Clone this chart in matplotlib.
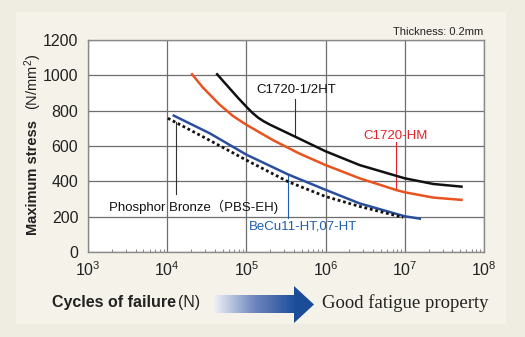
import numpy as np
import matplotlib
matplotlib.use("Agg")
import matplotlib.pyplot as plt
from matplotlib.patches import Rectangle, Polygon
from matplotlib.colors import LinearSegmentedColormap
from matplotlib.ticker import LogLocator, LogFormatterMathtext, NullFormatter

plt.rcParams["font.family"] = ["Liberation Sans", "Noto Sans CJK JP"]
plt.rcParams["mathtext.default"] = "regular"

# S-N curves for 0.2 mm strip: cycles to failure vs max stress (N/mm^2)
half_ht_cycles = [4.27e4, 6.46e4, 7.94e4, 1.0e5, 1.19e5, 1.41e5, 1.68e5, 2.0e5, 4.07e5,
                  1.0e6, 2.69e6, 1.0e7, 2.29e7, 5.2e7]
half_ht_stress = [1006, 915, 870, 822, 788, 760, 738, 720, 654, 570, 492, 417, 385, 370]

hm_cycles = [2.06e4, 2.82e4, 4.57e4, 6.76e4, 1.0e5, 2.19e5, 4.68e5, 1.0e6, 2.69e6,
             7.76e6, 1.0e7, 2.29e7, 5.2e7]
hm_stress = [1006, 931, 835, 770, 720, 632, 557, 492, 417, 351, 338, 308, 295]

becu_cycles = [1.21e4, 3.44e4, 1.0e5, 3.36e5, 1.0e6, 2.69e6, 1.0e7, 1.55e7]
becu_stress = [772, 672, 551, 439, 352, 275, 202, 189]

pbs_cycles = [1.02e4, 3.44e4, 1.0e5, 3.36e5, 1.0e6, 2.69e6, 9.5e6]
pbs_stress = [757, 632, 520, 398, 314, 258, 196]

y_ticks = [0, 200, 400, 600, 800, 1000, 1200]

BLACK = "#111111"
ORANGE = "#e8531f"
BLUE = "#2b4f9e"
RED_TXT = "#e3232b"
BLUE_TXT = "#1f5fae"

fig = plt.figure(figsize=(5.25, 3.37), dpi=100)
fig.patch.set_facecolor("#efece1")

# overlay in pixel units for the panel and the arrow
bg = fig.add_axes([0, 0, 1, 1], zorder=0)
bg.set_xlim(0, 525)
bg.set_ylim(337, 0)
bg.axis("off")
bg.add_patch(Rectangle((16, 12), 490, 312, facecolor="#f5f2ea", edgecolor="none"))

ax = fig.add_axes([88 / 525, 1 - 252 / 337, 396 / 525, 212 / 337], zorder=1)
ax.set_facecolor("white")
ax.set_xscale("log")
ax.set_xlim(1e3, 1e8)
ax.set_ylim(0, 1200)
ax.set_yticks(y_ticks)
ax.xaxis.set_major_locator(LogLocator(base=10, numticks=10))
ax.xaxis.set_major_formatter(LogFormatterMathtext())
ax.xaxis.set_minor_locator(LogLocator(base=10, subs=np.arange(2, 10), numticks=10))
ax.xaxis.set_minor_formatter(NullFormatter())
ax.grid(True, which="major", color="#6e6e6e", lw=0.9)
ax.tick_params(which="major", length=0, labelsize=11.5, colors="#222222")
ax.tick_params(axis="y", pad=7)
ax.tick_params(axis="x", pad=6)
ax.tick_params(which="minor", direction="in", length=2.5, width=0.7, color="#888888")
for sp in ax.spines.values():
    sp.set_color("#8a8a8a")
    sp.set_linewidth(1.0)

ax.plot(half_ht_cycles, half_ht_stress, color=BLACK, lw=1.8, zorder=3)
ax.plot(hm_cycles, hm_stress, color=ORANGE, lw=1.8, zorder=3)
ax.plot(becu_cycles, becu_stress, color=BLUE, lw=1.8, zorder=3)
ax.plot(pbs_cycles, pbs_stress, color=BLACK, lw=2.0, ls=(0, (1, 1)), zorder=3)

# leader lines and curve labels
ax.plot([4.07e5, 4.07e5], [866, 654], color="#333333", lw=0.8, zorder=2)
ax.text(4.2e5, 917, "C1720-1/2HT", fontsize=9.5, ha="center", va="center", color=BLACK)

ax.plot([7.76e6, 7.76e6], [620, 351], color=RED_TXT, lw=0.8, zorder=2)
ax.text(7.6e6, 657, "C1720-HM", fontsize=9.5, ha="center", va="center", color=RED_TXT)

ax.plot([1.28e4, 1.28e4], [736, 328], color="#333333", lw=0.8, zorder=2)
ax.text(2.15e4, 255, "Phosphor Bronze（PBS-EH)", fontsize=9.5, ha="center", va="center",
        color=BLACK)

ax.plot([3.36e5, 3.36e5], [439, 192], color=BLUE_TXT, lw=0.8, zorder=2)
ax.text(5.2e5, 142, "BeCu11-HT,07-HT", fontsize=9.5, ha="center", va="center",
        color=BLUE_TXT)

fig.text(483 / 525, 1 - 32 / 337, "Thickness: 0.2mm", fontsize=8, ha="right",
         va="center", color="#222222")

# y axis title: bold name, regular unit
fig.text(33 / 525, 1 - 235 / 337, "Maximum stress", rotation=90, fontsize=10.5,
         fontweight="bold", ha="center", va="bottom", color="#222222")
fig.text(33 / 525, 1 - 110 / 337, "(N/mm$^2$)", rotation=90, fontsize=10.5,
         ha="center", va="bottom", color="#222222")

# x axis title and the "better" arrow
fig.text(52 / 525, 1 - 303 / 337, "Cycles of failure", fontsize=11.5, fontweight="bold",
         ha="left", va="center", color="#222222")
fig.text(178 / 525, 1 - 303 / 337, "(N)", fontsize=11.5, ha="left", va="center",
         color="#222222")

grad = LinearSegmentedColormap.from_list("arrow", ["#eef0f6", "#6f86bd", "#1d4f9b"])
bg.imshow(np.linspace(0, 1, 200)[None, :], cmap=grad, aspect="auto",
          extent=(214, 295, 313.5, 295.5), zorder=2)
bg.add_patch(Polygon([(294, 286), (314, 304.5), (294, 323)], closed=True,
                     facecolor="#1a4c98", edgecolor="none", zorder=3))
bg.set_xlim(0, 525)
bg.set_ylim(337, 0)

fig.text(322 / 525, 1 - 303 / 337, "Good fatigue property", fontsize=13.5,
         family="Liberation Serif", ha="left", va="center", color="#222222")

fig.savefig("out.png", dpi=100, facecolor=fig.get_facecolor())
